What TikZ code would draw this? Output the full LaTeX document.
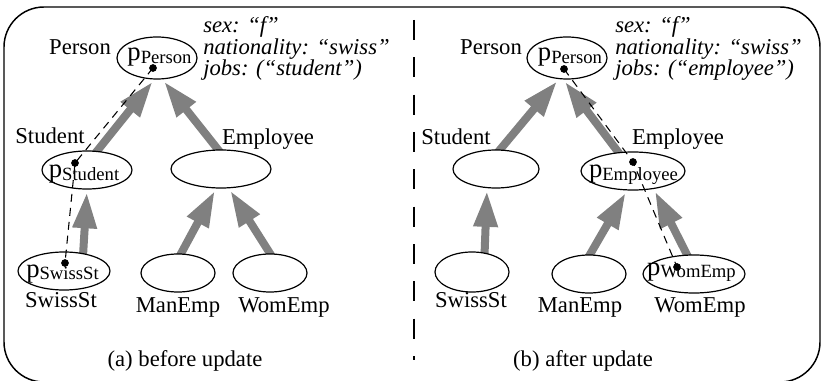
\documentclass[tikz,border=0pt]{standalone}
\usepackage{fontspec}
\setmainfont{Liberation Serif}
\usetikzlibrary{arrows.meta,shapes.geometric,backgrounds}
\newcommand\pobj[1]{{\fontsize{20}{20}\selectfont p}\raisebox{-2pt}{\fontsize{14}{14}\selectfont #1}}
\begin{document}
\begin{tikzpicture}[x=0.75pt,y=-0.75pt,
  cls/.style={ellipse, draw, line width=0.9pt, fill=white, inner sep=0pt},
  lab/.style={font=\fontsize{17}{17}\selectfont, inner sep=0pt, anchor=base},
  pobj/.style={inner sep=0pt, anchor=base},
  attr/.style={font=\fontsize{17}{17}\selectfont\itshape, inner sep=0pt, anchor=base west},
  isa/.style={draw=gray, line width=6pt, -{Triangle[length=27pt,width=17pt]}, shorten >=2pt, shorten <=-3pt},
  inst/.style={dash pattern=on 6pt off 4.5pt, line width=0.8pt},
  dot/.style={circle, fill=black, inner sep=0pt, minimum size=5.8pt},
  frame/.style={line width=1.1pt, rounded corners=30pt},
  divider/.style={dash pattern=on 15pt off 13pt, line width=0.8pt}]
\useasboundingbox (0,0) rectangle (821,381);
\draw[frame] (4,7) rectangle (820,382);
\coordinate (divtop) at (414,20);
\coordinate (divbot) at (414,360);
\draw[divider] (divtop) -- (divbot);

% ---- left panel: classes
\node[cls, minimum width=60pt, minimum height=31.5pt] (PersonL) at (157,58) {};
\node[cls, minimum width=67.5pt, minimum height=28.5pt] (StudentL) at (87,170) {};
\node[cls, minimum width=75pt, minimum height=28.5pt] (EmployeeL) at (221,169) {};
\node[cls, minimum width=69pt, minimum height=28.5pt] (SwissStL) at (64,271) {};
\node[cls, minimum width=55.5pt, minimum height=28.5pt] (ManEmpL) at (178,273) {};
\node[cls, minimum width=55.5pt, minimum height=28.5pt] (WomEmpL) at (270,273) {};
% ---- right panel: classes
\node[cls, minimum width=60pt, minimum height=31.5pt] (PersonR) at (567,58) {};
\node[cls, minimum width=64.5pt, minimum height=28.5pt] (StudentR) at (496,169) {};
\node[cls, minimum width=78pt, minimum height=28.5pt] (EmployeeR) at (633,171) {};
\node[cls, minimum width=55.5pt, minimum height=30pt] (SwissStR) at (472,272) {};
\node[cls, minimum width=55.5pt, minimum height=28.5pt] (ManEmpR) at (589,274) {};
\node[cls, minimum width=76.5pt, minimum height=28.5pt] (WomEmpR) at (694,274) {};

% ---- is-a arrows
\begin{scope}[on background layer]
\draw[isa] (StudentL.62) -- (PersonL.263);
\draw[isa] (EmployeeL.99) -- (PersonL.284);
\draw[isa] (SwissStL.43) -- (StudentL.270);
\draw[isa] (ManEmpL.81) -- (EmployeeL.256);
\draw[isa] (WomEmpL.90) -- (EmployeeL.292);
\draw[isa] (StudentR.78) -- (PersonR.249);
\draw[isa] (EmployeeR.128) -- (PersonR.260);
\draw[isa] (SwissStR.57) -- (StudentR.245);
\draw[isa] (ManEmpR.87) -- (EmployeeR.253);
\draw[isa] (WomEmpR.110) -- (EmployeeR.319);
\end{scope}

% ---- labels
\node[lab] (PersonLabL) at (80,55) {Person};
\node[lab] (StudentLabL) at (50,144) {Student};
\node[lab] (EmployeeLabL) at (268,145) {Employee};
\node[lab] (SwissStLabL) at (61,307) {SwissSt};
\node[lab] (ManEmpLabL) at (178,312) {ManEmp};
\node[lab] (WomEmpLabL) at (284,312) {WomEmp};
\node[lab] (captionL) at (185,366) {(a) before update};
\node[lab] (PersonLabR) at (491,55) {Person};
\node[lab] (StudentLabR) at (456,145) {Student};
\node[lab] (EmployeeLabR) at (678,145) {Employee};
\node[lab] (SwissStLabR) at (471,307) {SwissSt};
\node[lab] (ManEmpLabR) at (580,312) {ManEmp};
\node[lab] (WomEmpLabR) at (700,312) {WomEmp};
\node[lab] (captionR) at (583,366) {(b) after update};

% ---- object texts
\node[pobj] (pPersonL) at (159.5,61) {\pobj{Person}};
\node[pobj] (pStudentL) at (84,178) {\pobj{Student}};
\node[pobj] (pSwissStL) at (62.5,277) {\pobj{SwissSt}};
\node[pobj] (pPersonR) at (570,61) {\pobj{Person}};
\node[pobj] (pEmployeeR) at (633.5,178) {\pobj{Employee}};
\node[pobj] (pWomEmpR) at (691.5,275) {\pobj{WomEmp}};

% ---- attributes
\node[attr] (attrL1) at (203,33) {sex: “f”};
\node[attr] (attrL2) at (203,55) {nationality: “swiss”};
\node[attr] (attrL3) at (203,76) {jobs: (“student”)};
\node[attr] (attrR1) at (615,33) {sex: “f”};
\node[attr] (attrR2) at (615,55) {nationality: “swiss”};
\node[attr] (attrR3) at (615,76) {jobs: (“employee”)};

% ---- object dots and instance chains
\node[dot] (dPL) at (153,68) {};
\node[dot] (dSL) at (75,163) {};
\node[dot] (dSwL) at (65,263) {};
\node[dot] (dPR) at (564,69) {};
\node[dot] (dER) at (633,162) {};
\node[dot] (dWR) at (677,267) {};
\draw[inst] (dPL.center) -- (dSL.center) -- (dSwL.center);
\draw[inst] (dPR.center) -- (dER.center) -- (dWR.center);
\end{tikzpicture}
\end{document}
